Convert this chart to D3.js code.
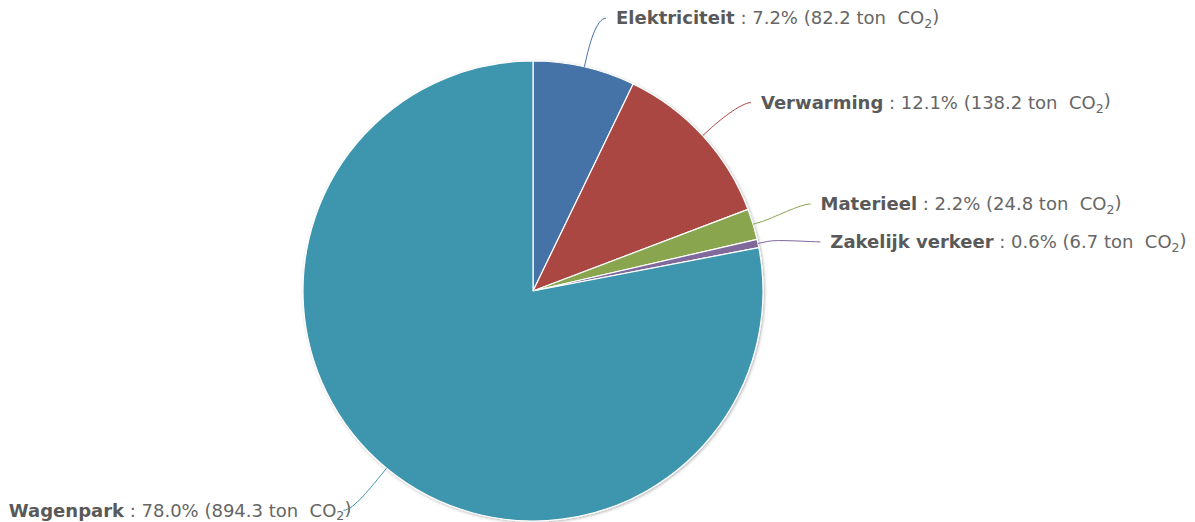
<!DOCTYPE html>
<html><head><meta charset="utf-8">
<script src="https://cdn.jsdelivr.net/npm/d3@7"></script>
<style>
html,body{margin:0;padding:0;background:#fff;}
svg{display:block;}
</style></head>
<body>
<svg id="chart" width="1195" height="522"></svg>
<script>
const categories = ["Elektriciteit", "Verwarming", "Materieel", "Zakelijk verkeer", "Wagenpark"];
const tonCO2 = [82.2, 138.2, 24.8, 6.7, 894.3];
const percents = [7.2, 12.1, 2.2, 0.6, 78.0];
const colors = ["#4572A7", "#AA4643", "#89A54E", "#80699B", "#3D96AE"];

const W = 1195, H = 522;
const cx = 533, cy = 291, R = 230;
const labelDistance = 52, minGap = 38, labelShift = 2;
const fontSize = 18;

const svg = d3.select("#chart");
const defs = svg.append("defs");
const f = defs.append("filter").attr("id","shadow").attr("x","-10%").attr("y","-10%").attr("width","120%").attr("height","120%");
f.append("feDropShadow").attr("dx",1).attr("dy",1).attr("stdDeviation",1.5).attr("flood-color","#000").attr("flood-opacity",0.3);

const data = categories.map((c,i)=>({name:c, value:tonCO2[i], pct:percents[i], color:colors[i]}));
const pie = d3.pie().value(d=>d.value).sort(null);
const arcs = pie(data);
const arc = d3.arc().innerRadius(0).outerRadius(R);

const g = svg.append("g").attr("transform",`translate(${cx},${cy})`);
g.append("g").attr("filter","url(#shadow)").selectAll("path").data(arcs).join("path")
  .attr("d",arc).attr("fill",d=>d.data.color).attr("stroke","#fff").attr("stroke-width",1.2).attr("stroke-linejoin","round");

const Rl = R+labelDistance;
const pt = (a, r) => [Math.sin(a)*r, -Math.cos(a)*r];
const labs = arcs.map(a=>{
  const m=(a.startAngle+a.endAngle)/2;
  const p = pt(m, Rl);
  return {a, m, y0:p[1], y:p[1], x:p[0], side: Math.sin(m)>=0 ? 1 : -1};
});
[1,-1].forEach(s=>{
  const L = labs.filter(l=>l.side===s).sort((a,b)=>a.y-b.y);
  for(let iter=0;iter<50;iter++){
    let moved=false;
    for(let i=1;i<L.length;i++){
      const d = L[i].y - L[i-1].y;
      if(d<minGap){ const sh=(minGap-d)/2; L[i].y+=sh; L[i-1].y-=sh; moved=true; }
    }
    if(!moved) break;
  }
});
labs.forEach(l=>{
  if(Math.abs(l.y-l.y0)>0.01){
    const dy = Math.max(-Rl, Math.min(Rl, l.y));
    l.x = l.side*Math.sqrt(Math.max(0, Rl*Rl - dy*dy));
  }
  l.y += labelShift;
});

const lg = svg.append("g").attr("transform",`translate(${cx},${cy})`);
labs.forEach(l=>{
  const base = pt(l.m, R), brk = pt(l.m, R+10);
  const ctrl = [2*brk[0]-base[0], 2*brk[1]-base[1]];
  const ex = l.x + l.side*10, ey = l.y;
  const path = `M${ex},${ey} C${l.x},${ey} ${ctrl[0]},${ctrl[1]} ${brk[0]},${brk[1]} L${base[0]},${base[1]}`;
  lg.append("path").attr("d",path).attr("fill","none").attr("stroke",l.a.data.color).attr("stroke-width",1);
  const t = lg.append("text")
    .attr("x", l.side>0 ? l.x+20 : l.x-2)
    .attr("y", l.y).attr("dy","0.35em")
    .attr("text-anchor", l.side>0 ? "start":"end")
    .style("white-space","pre")
    .attr("font-family","'DejaVu Sans', sans-serif").attr("font-size",fontSize).attr("fill","#666");
  t.append("tspan").attr("font-weight","bold").attr("fill","#595959").text(l.a.data.name);
  t.append("tspan").text(`\u00a0: ${l.a.data.pct.toFixed(1)}% (${l.a.data.value.toFixed(1)} ton\u00a0 CO`);
  t.append("tspan").attr("font-size",fontSize*0.7).attr("dy","0.3em").text("2");
  t.append("tspan").attr("dy","-0.3em").text(")");
});
</script>
</body></html>
